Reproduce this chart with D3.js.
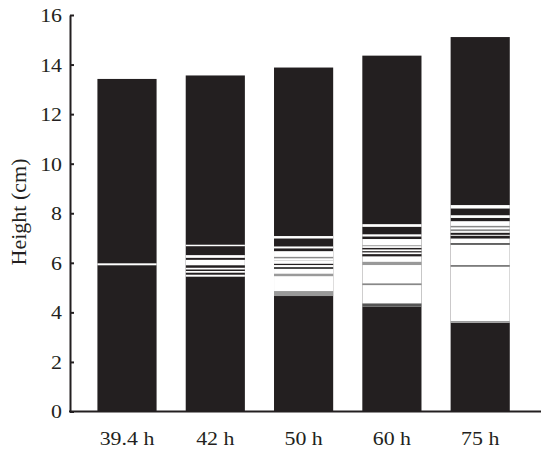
<!DOCTYPE html>
<html>
<head>
<meta charset="utf-8">
<script src="https://cdn.jsdelivr.net/npm/d3@7"></script>
<style>
  html, body { margin: 0; padding: 0; background: #fff; }
  svg { display: block; }
  text { font-family: "Times New Roman", "Liberation Serif", Tinos, Times, serif; fill: #231f20; }
</style>
</head>
<body>
<svg id="chart" width="550" height="459"></svg>
<script>
// ---- data ----
const categories = ["39.4 h", "42 h", "50 h", "60 h", "75 h"];
const heights = [13.42, 13.56, 13.88, 14.36, 15.11];
const yTicks = [0, 2, 4, 6, 8, 10, 12, 14, 16];

// light/gray layers inside each black bar: [low cm, high cm, shade]
const layers39 = [[5.90, 5.98, "#ffffff"]];
const layers42 = [
  [6.67, 6.73, "#ffffff"], [6.20, 6.31, "#ffffff"], [5.90, 6.12, "#ffffff"],
  [5.73, 5.80, "#ffffff"], [5.60, 5.67, "#ffffff"], [5.44, 5.52, "#ffffff"]
];
const layers50 = [
  [6.98, 7.08, "#ffffff"], [6.58, 6.66, "#ffffff"], [4.66, 6.47, "#ffffff"],
  [6.18, 6.24, "#8a8a8a"], [6.08, 6.11, "#d0d0d0"], [5.91, 5.96, "#231f20"],
  [5.75, 5.83, "#4a4a4a"], [5.46, 5.56, "#9a9a9a"], [4.66, 4.86, "#999999"]
];
const layers60 = [
  [7.45, 7.56, "#ffffff"], [7.06, 7.15, "#ffffff"], [4.23, 6.96, "#ffffff"],
  [6.67, 6.71, "#999999"], [6.54, 6.60, "#231f20"], [6.42, 6.47, "#231f20"],
  [6.26, 6.35, "#231f20"], [5.91, 6.04, "#999999"], [5.10, 5.17, "#888888"],
  [4.23, 4.36, "#555555"]
];
const layers75 = [
  [8.19, 8.33, "#ffffff"], [7.81, 7.92, "#ffffff"], [3.58, 7.68, "#ffffff"],
  [7.43, 7.49, "#888888"], [7.28, 7.35, "#888888"], [7.13, 7.21, "#231f20"],
  [6.98, 7.09, "#231f20"], [6.73, 6.79, "#333333"], [5.84, 5.91, "#777777"],
  [3.58, 3.65, "#999999"]
];
const layers = [layers39, layers42, layers50, layers60, layers75];

// ---- chart ----
const ink = "#231f20";
const serif = '"Times New Roman", "Liberation Serif", Tinos, Times, serif';
const svg = d3.select("#chart");
const axisX = 70;

const y = d3.scaleLinear().domain([0, 16]).range([411.5, 15]);
const x = d3.scaleBand().domain(categories).range([82.85, 524.35])
  .paddingInner(0.33).paddingOuter(0.165);

// bars
const barG = svg.append("g");
categories.forEach((c, i) => {
  const g = barG.append("g");
  g.append("rect")
    .attr("x", x(c)).attr("width", x.bandwidth())
    .attr("y", y(heights[i])).attr("height", y(0) - y(heights[i]))
    .attr("fill", ink);
  g.selectAll("rect.layer").data(layers[i]).enter().append("rect")
    .attr("class", "layer")
    .attr("x", x(c)).attr("width", x.bandwidth())
    .attr("y", d => y(d[1])).attr("height", d => y(d[0]) - y(d[1]))
    .attr("fill", d => d[2]);
});

// y axis
const yAxis = d3.axisLeft(y).tickValues(yTicks).tickFormat(d3.format("d"))
  .tickSizeInner(-4).tickSizeOuter(0).tickPadding(8);
const yg = svg.append("g").attr("transform", `translate(${axisX},0)`).call(yAxis);
yg.attr("font-family", null);
yg.select(".domain").attr("stroke", ink).attr("stroke-width", 2);
yg.selectAll(".tick line").attr("stroke", ink).attr("stroke-width", 2);
yg.selectAll(".tick text")
  .style("font-family", serif)
  .style("font-size", "19px").attr("fill", ink)
  .attr("dy", "0.34em");

// x axis baseline
svg.append("line")
  .attr("x1", axisX - 1).attr("x2", 541)
  .attr("y1", y(0)).attr("y2", y(0))
  .attr("stroke", ink).attr("stroke-width", 2);

// x labels
svg.append("g").selectAll("text").data(categories).enter().append("text")
  .attr("x", d => x(d) + x.bandwidth() / 2)
  .attr("y", 445)
  .attr("text-anchor", "middle")
  .style("font-family", serif)
  .style("font-size", "19px")
  .text(d => d);

// y title
svg.append("text")
  .attr("transform", "translate(26,212) rotate(-90)")
  .attr("text-anchor", "middle")
  .style("font-family", serif)
  .style("font-size", "22px")
  .text("Height (cm)");

// slight horizontal widening of labels to match reference typography
svg.selectAll("text").each(function () {
  const t = d3.select(this);
  if (t.attr("transform") && t.attr("transform").includes("rotate")) return;
  const w = this.getComputedTextLength();
  t.attr("textLength", w * 1.15).attr("lengthAdjust", "spacingAndGlyphs");
});
</script>
</body>
</html>
